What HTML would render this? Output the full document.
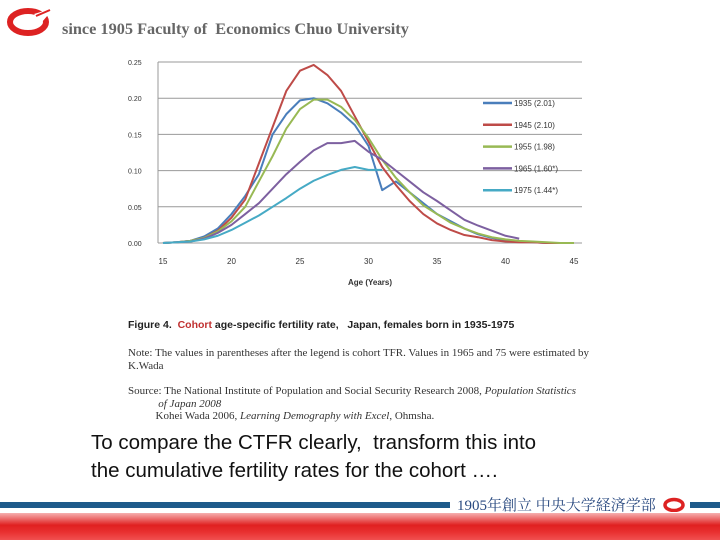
<!DOCTYPE html>
<html><head><meta charset="utf-8"><style>
body{margin:0;width:720px;height:540px;background:#fff;position:relative;overflow:hidden;font-family:"Liberation Sans",sans-serif}
.abs{position:absolute}
</style></head><body>
<div class="abs" style="left:6px;top:6px;width:48px;height:30px">
<svg width="48" height="30"><ellipse cx="22" cy="16" rx="18" ry="11" fill="none" stroke="#d22" stroke-width="6"/><path d="M28 8 L48 2 L36 16Z" fill="#fff"/><path d="M30 10 L44 4" stroke="#d22" stroke-width="2"/></svg></div>
<div class="abs" style="left:62px;top:19px;font-family:'Liberation Serif',serif;font-weight:bold;font-size:16.3px;color:#666">since 1905 Faculty of&nbsp; Economics Chuo University</div>

<svg class="abs" style="left:0;top:0" width="720" height="300" id="chart"></svg>

<div class="abs" style="left:128px;top:319px;font-size:10.5px;font-weight:bold;color:#222">Figure 4.&nbsp; <span style="color:#c03030">Cohort</span> age-specific fertility rate,&nbsp;&nbsp; Japan, females born in 1935-1975</div>
<div class="abs" style="left:128px;top:347px;font-family:'Liberation Serif',serif;font-size:11px;color:#333;line-height:12.5px;width:462px">Note: The values in parentheses after the legend is cohort TFR. Values in 1965 and 75 were estimated by K.Wada</div>
<div class="abs" style="left:128px;top:385px;font-family:'Liberation Serif',serif;font-size:11px;color:#333;line-height:12.5px;width:470px;white-space:nowrap">Source: The National Institute of Population and Social Security Research 2008, <i>Population Statistics</i><br>&nbsp;&nbsp;&nbsp;&nbsp;&nbsp;&nbsp;&nbsp;&nbsp;&nbsp;&nbsp;&nbsp;<i>of Japan 2008</i><br>&nbsp;&nbsp;&nbsp;&nbsp;&nbsp;&nbsp;&nbsp;&nbsp;&nbsp;&nbsp;Kohei Wada 2006, <i>Learning Demography with Excel</i>, Ohmsha.</div>
<div class="abs" style="left:91px;top:429px;font-size:20.5px;color:#111;line-height:28px">To compare the CTFR clearly,&nbsp; transform this into<br>the cumulative fertility rates for the cohort ….</div>

<div class="abs" style="left:0;top:502px;width:720px;height:6px;background:#1e5a8a"></div>
<div class="abs" style="left:450px;top:494px;width:240px;height:20px;background:#fff"></div>
<div class="abs" style="left:457px;top:494px;font-family:'Liberation Serif','Noto Serif CJK SC',serif;font-size:15px;color:#2a4a80">1905年創立 中央大学経済学部</div>
<div class="abs" style="left:662px;top:496px;width:26px;height:16px"><svg width="26" height="16"><ellipse cx="12" cy="9" rx="9" ry="5.5" fill="none" stroke="#d22" stroke-width="3.5"/></svg></div>
<div class="abs" style="left:0;top:513px;width:720px;height:27px;background:linear-gradient(#f6b0b0,#e02020 45%,#e83030 70%,#f05050)"></div>

<script>
const ages=[15,16,17,18,19,20,21,22,23,24,25,26,27,28,29,30,31,32,33,34,35,36,37,38,39,40,41,42,43,44,45];
const c1935=[0,.001,.003,.009,.02,.04,.065,.095,.15,.178,.197,.2,.193,.18,.163,.134,.073,.085,.07,.055,.04,.03,.02,.012,.007,.004,.002,.001,0,0,0];
const c1945=[0,.001,.003,.007,.017,.035,.06,.11,.16,.21,.238,.246,.232,.21,.175,.14,.105,.08,.058,.04,.027,.018,.011,.008,.004,.002,.001,.001,0,0,0];
const c1955=[0,.001,.003,.007,.016,.03,.05,.085,.12,.158,.185,.198,.198,.188,.17,.145,.115,.09,.07,.052,.04,.028,.02,.013,.008,.005,.003,.002,.001,0,0];
const c1965=[0,.001,.002,.006,.014,.025,.04,.055,.075,.095,.112,.128,.138,.138,.141,.126,.115,.1,.085,.07,.058,.045,.032,.024,.017,.01,.006];
const c1975=[0,.001,.002,.005,.01,.018,.028,.038,.05,.062,.075,.086,.094,.101,.105,.101,.101];
const seriesNames=["1935 (2.01)","1945 (2.10)","1955 (1.98)","1965 (1.60*)","1975 (1.44*)"];
const seriesColors=["#4a7ebb","#be4b48","#98b954","#7d60a0","#46aac5"];
const yTicks=[0,.05,.10,.15,.20,.25];
const yTickLabels=["0.00","0.05","0.10","0.15","0.20","0.25"];
const xTicks=[15,20,25,30,35,40,45];
const NS="http://www.w3.org/2000/svg";
const svg=document.getElementById('chart');
const X=a=>163+(a-15)*13.7;
const Y=v=>243-v*724;
function mk(t,at){const e=document.createElementNS(NS,t);for(const k in at)e.setAttribute(k,at[k]);svg.appendChild(e);return e;}
yTicks.forEach((v,i)=>{
 const l=mk('line',{x1:158,x2:582,y1:Y(v),y2:Y(v),stroke:'#999','stroke-width':1});
 
 
 const t=mk('text',{x:128,y:Y(v)+3,'font-size':7,fill:'#333','font-family':'Liberation Sans'});
 t.textContent=yTickLabels[i];
 
 
});
const ax=mk('line',{x1:158,x2:158,y1:Y(.25),y2:Y(0),stroke:'#999'});


xTicks.forEach(a=>{
 const t=mk('text',{x:X(a),y:264,'font-size':8,fill:'#333','text-anchor':'middle','font-family':'Liberation Sans'});
 t.textContent=a;
 
 
});
const xt=mk('text',{x:370,y:285,'font-size':8,fill:'#333','text-anchor':'middle','font-weight':'bold','font-family':'Liberation Sans'});
xt.textContent="Age (Years)";


[c1935,c1945,c1955,c1965,c1975].forEach((s,i)=>{
 const p=mk('polyline',{points:s.map((v,j)=>X(ages[j])+','+Y(v)).join(' '),fill:'none',stroke:seriesColors[i],'stroke-width':2,'stroke-linejoin':'round'});
 
 
 const ly=103+i*21.8;
 const l=mk('line',{x1:483,x2:512,y1:ly,y2:ly,stroke:seriesColors[i],'stroke-width':2.5});
 
 
 const t=mk('text',{x:514,y:ly+3,'font-size':8,fill:'#333','font-family':'Liberation Sans'});
 t.textContent=seriesNames[i];
 
 
});
</script>
</body></html>
